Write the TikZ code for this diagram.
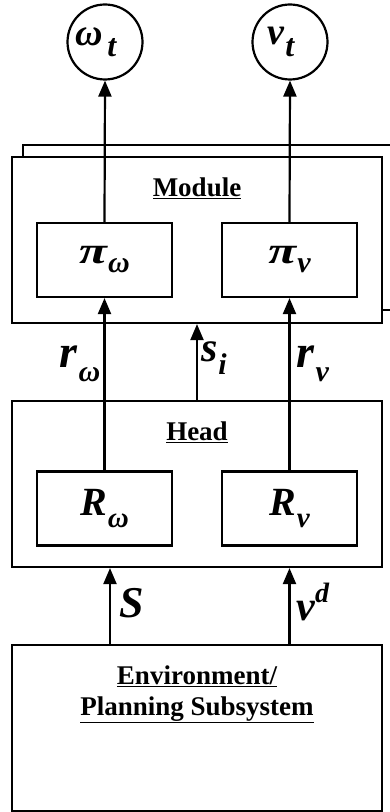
\documentclass[tikz,border=0pt]{standalone}
\usepackage{fontspec}
\setmainfont{Liberation Serif}
\usetikzlibrary{arrows.meta,positioning}

% bold italic symbol with a lowered or raised index
\newcommand{\symsub}[4]{{\fontsize{#1}{#1}\selectfont\bfseries\itshape #2\kern1pt\raisebox{-.3em}{\fontsize{#3}{#3}\selectfont #4}}}
\newcommand{\symsup}[4]{{\fontsize{#1}{#1}\selectfont\bfseries\itshape #2\raisebox{.42em}{\fontsize{#3}{#3}\selectfont #4}}}
\newcommand{\bigpi}{\scalebox{1.7}[1.25]{π}}

\begin{document}
\begin{tikzpicture}[
  x=1pt, y=1pt,
  line width=2.2pt,
  blk/.style={draw, fill=white, minimum width=370pt, minimum height=166pt, inner sep=0pt},
  sub/.style={draw, minimum width=135pt, minimum height=74pt, inner sep=0pt},
  outp/.style={draw, circle, minimum size=75pt, inner sep=0pt},
  ttl/.style={font=\fontsize{27}{31}\selectfont\bfseries, align=center},
  flow/.style={-{Triangle[width=13pt,length=16pt]}}
]
  \useasboundingbox (0,0) rectangle (389,812);

  % outputs
  \node[outp] (omega) at (105,770) {\symsub{38}{ω\kern3pt}{32}{t}\kern18pt};
  \node[outp] (nu) at (290,770) {\symsub{38}{v}{32}{t}\kern18pt};

  % module stack
  \draw (23,502) rectangle (400,667);
  \node[blk] (module) at (197,572) {};
  \node[ttl] (modtitle) at (197,624) {\underline{Module}};
  \node[sub] (piw) at (104.5,552) {\symsub{30}{\bigpi}{30}{ω}};
  \node[sub] (piv) at (289.5,552) {\symsub{30}{\bigpi}{30}{v}};

  % head
  \node[blk] (head) at (197,328) {};
  \node[ttl] (headtitle) at (197,380) {\underline{Head}};
  \node[sub] (rw) at (104.5,303.5) {\symsub{40}{R}{29}{ω}};
  \node[sub] (rv) at (289.5,303.5) {\symsub{40}{R}{29}{v}};

  % environment
  \node[blk] (env) at (197,84) {};
  \node[ttl, below=17pt of env.north] (envtitle) {\underline{Environment/}\\\underline{Planning Subsystem}};

  \draw[flow] (piw.north) -- (omega.south);
  \draw[flow] (piv.north) -- (nu.south);
  \draw[flow] (rw.north) -- node[pos=.62, left, inner sep=3pt] (lrw) {\symsub{46}{r}{30}{ω}} (piw.south);
  \draw[flow] (rv.north) -- node[pos=.62, right, inner sep=6pt] (lrv) {\symsub{46}{r}{30}{v}} (piv.south);
  \draw[flow] (head.north) -- node[pos=.55, right, inner sep=3pt] (lsi) {\symsub{42}{s}{30}{i}} (module.south);
  \draw[flow] (env.north -| 110,0) -- node[pos=.45, right, inner sep=8pt] (ls) {\symsub{44}{S}{24}{}} (head.south -| 110,0);
  \draw[flow] (env.north -| rv.north) -- node[pos=.55, right, inner sep=6pt] (lvd) {\symsup{42}{v}{28}{d}} (head.south -| rv.north);
\end{tikzpicture}
\end{document}
